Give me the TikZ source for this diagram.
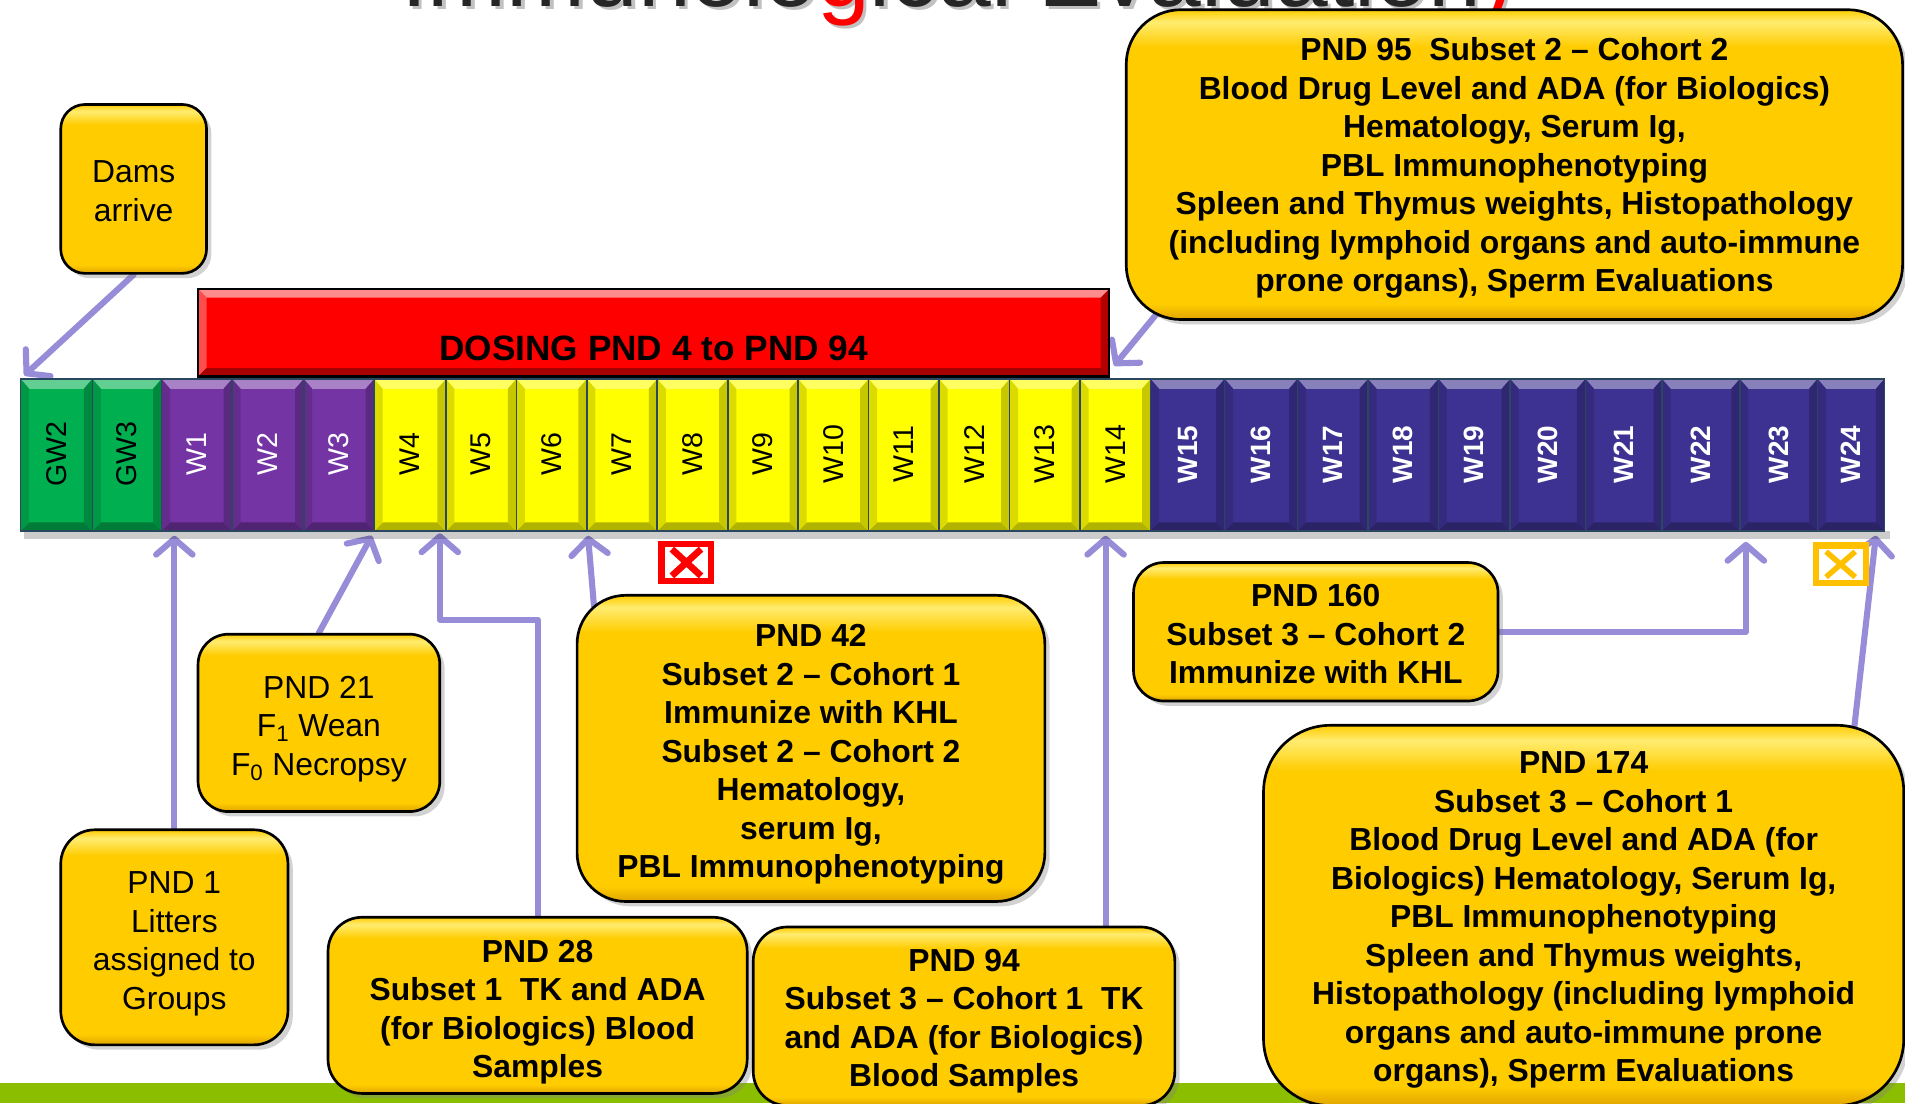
\documentclass[tikz,border=0pt]{standalone}
\usepackage{fontspec}
\setmainfont{Liberation Sans}
\usetikzlibrary{arrows.meta,shadows}
\definecolor{boxy}{HTML}{FFCC00}
\definecolor{boxhi}{HTML}{FFEC70}
\definecolor{boxlo}{HTML}{E0A400}
\definecolor{arrc}{RGB}{150,140,216}
\definecolor{gwg}{HTML}{00B050}
\definecolor{wpur}{HTML}{7434A4}
\definecolor{wyel}{HTML}{FFFF00}
\definecolor{wind}{HTML}{3D3292}
\definecolor{limeband}{RGB}{140,190,0}
\definecolor{xorange}{HTML}{FFC000}
\definecolor{cellline}{HTML}{2B4760}
\definecolor{titlec}{HTML}{262626}
\pgfdeclareverticalshading{glossy}{100bp}{color(0bp)=(boxlo); color(25bp)=(boxlo); color(27.5bp)=(boxy); color(69bp)=(boxy); color(73bp)=(boxhi); color(75bp)=(boxy); color(100bp)=(boxy)}
\newcommand\boxfont{\fontsize{26.2}{31.7}\selectfont}
\newcommand\cellr{\fontsize{23.5}{28}\selectfont}
\newcommand\cellb{\fontsize{23}{28}\selectfont\bfseries}
\newcommand\dosfont{\fontsize{29}{34}\selectfont\bfseries}
\newcommand\titlefont{\fontsize{78}{90}\selectfont}
\newcommand\wkcell[6]{%
  \fill[fill=#3] (#1,312) rectangle (#2,437);
  \fill[fill=#3!62!white] (#1,312) -- (#2,312) -- ({#2-7},320) -- ({#1+7},320) -- cycle;
  \fill[fill=#3!70!black] (#1,437) -- (#2,437) -- ({#2-7},430) -- ({#1+7},430) -- cycle;
  \fill[fill=#3!86!black] (#1,312) -- ({#1+7},320) -- ({#1+7},430) -- (#1,437) -- cycle;
  \fill[fill=#3!78!black] (#2,312) -- ({#2-7},320) -- ({#2-7},430) -- (#2,437) -- cycle;
  \draw[draw=cellline, line width=1.3pt] (#1,312) rectangle (#2,437);
  \node[rotate=90, text=#4, font=#6, inner sep=0pt] (cell#5) at ({(#1+#2)/2},374) {#5};
}
\pgfdeclarelayer{bg}
\pgfsetlayers{bg,main}
\begin{document}
\begin{tikzpicture}[x=1pt,y=-1pt,
  tbox/.style={draw=black, line width=2.2pt, shading=glossy, rounded corners=#1,
    inner sep=0pt,
    drop shadow={shadow xshift=4pt,shadow yshift=-4pt,opacity=0.35}},
  btext/.style={align=center, font=\boxfont\bfseries, inner sep=0pt},
  rtext/.style={align=center, font=\boxfont, inner sep=0pt},
  arr/.style={draw=arrc, line width=5pt, line cap=round, line join=round,
    -{Straight Barb[length=13pt,width=30pt,round]}},
  xbox/.style={draw=#1, line width=5pt, fill=white, minimum width=41pt,
    minimum height=31pt, inner sep=0pt}
]
\useasboundingbox (0,0) rectangle (1568,908);
\begin{pgfonlayer}{bg}
\fill[white] (0,0) rectangle (1568,908);
\fill[limeband] (0,891) rectangle (1568,908);
\end{pgfonlayer}
\clip (0,0) rectangle (1568,908);

% title (cut off at the top, as in the reference)
\node[anchor=base west, inner sep=0pt, font=\titlefont, text=black!40, opacity=0.6] (titleshadow) at (333,8) {Immunological Evaluation)};
\node[anchor=base west, inner sep=0pt, font=\titlefont, text=titlec] (title) at (330,5) {Immunolo\textcolor{red}{g}ical Evaluation\textcolor{red}{)}};

% dosing bar
\fill[red] (163,238) rectangle (913,310);
\fill[red!45!white] (163,238) -- (913,238) -- (906,245) -- (170,245) -- cycle;
\fill[red!70!white] (163,238) -- (170,245) -- (170,303) -- (163,310) -- cycle;
\fill[red!70!black] (913,238) -- (906,245) -- (906,303) -- (913,310) -- cycle;
\fill[red!65!black] (163,310) -- (913,310) -- (906,303) -- (170,303) -- cycle;
\draw[black, line width=2pt] (163,238) rectangle (913,310);
\node[font=\dosfont, inner sep=0pt] (dosing) at (538,287) {DOSING PND 4 to PND 94};

% week bar
\fill[black, opacity=0.2] (20,437) rectangle (1556,444);
\foreach \a/\b/\c/\d/\e/\f in {
  17/76/gwg/black/GW2/\cellr, 76/133/gwg/black/GW3/\cellr,
  133/191/wpur/white/W1/\cellr, 191/250/wpur/white/W2/\cellr, 250/308/wpur/white/W3/\cellr,
  308/367/wyel/black/W4/\cellr, 367/425/wyel/black/W5/\cellr, 425/483/wyel/black/W6/\cellr,
  483/541/wyel/black/W7/\cellr, 541/599/wyel/black/W8/\cellr, 599/657/wyel/black/W9/\cellr,
  657/715/wyel/black/W10/\cellr, 715/773/wyel/black/W11/\cellr, 773/831/wyel/black/W12/\cellr,
  831/889/wyel/black/W13/\cellr, 889/947/wyel/black/W14/\cellr,
  947/1008/wind/white/W15/\cellb, 1008/1068/wind/white/W16/\cellb, 1068/1126/wind/white/W17/\cellb,
  1126/1184/wind/white/W18/\cellb, 1184/1243/wind/white/W19/\cellb, 1243/1305/wind/white/W20/\cellb,
  1305/1368/wind/white/W21/\cellb, 1368/1432/wind/white/W22/\cellb, 1432/1496/wind/white/W23/\cellb,
  1496/1551/wind/white/W24/\cellb}
  {\wkcell{\a}{\b}{\c}{\d}{\e}{\f}}

% markers
\node[xbox=red] (xred) at (565,463) {};
\draw[red, line width=5.5pt] (553,452) -- (577,474) (577,452) -- (553,474);
\node[xbox=xorange] (xora) at (1515,464.5) {};
\draw[xorange, line width=4.5pt] (1503,454) -- (1527,475) (1527,454) -- (1503,475);

% boxes
\node[tbox=20pt, minimum width=120pt, minimum height=139pt] (dams) at (110,155.5) {};
\node[rtext] (damst) at ([yshift=-2pt]dams.center) {Dams\\arrive};
\node[tbox=45pt, minimum width=639pt, minimum height=255pt] (pnd95) at (1246.5,135.5) {};
\node[btext] (pnd95t) at ([yshift=-3pt]pnd95.center)
 {PND 95\ \ Subset 2 – Cohort 2\\Blood Drug Level and ADA (for Biologics)\\Hematology, Serum Ig,\\PBL Immunophenotyping\\Spleen and Thymus weights, Histopathology\\(including lymphoid organs and auto-immune\\prone organs), Sperm Evaluations};
\node[tbox=25pt, minimum width=199pt, minimum height=146pt] (pnd21) at (262.5,595) {};
\node[rtext] (pnd21t) at ([yshift=-5pt]pnd21.center)
 {PND 21\\F\textsubscript{1} Wean\\F\textsubscript{0} Necropsy};
\node[tbox=28pt, minimum width=187pt, minimum height=177pt] (pnd1) at (143.5,771.5) {};
\node[rtext] (pnd1t) at ([yshift=-5.5pt]pnd1.center)
 {PND 1\\Litters\\assigned to\\Groups};
\node[tbox=40pt, minimum width=385pt, minimum height=252pt] (pnd42) at (667.5,616) {};
\node[btext] (pnd42t) at ([yshift=-5pt]pnd42.center)
 {PND 42\\Subset 2 – Cohort 1\\Immunize with KHL\\Subset 2 – Cohort 2\\Hematology,\\serum Ig,\\PBL Immunophenotyping};
\node[tbox=28pt, minimum width=345pt, minimum height=145pt] (pnd28) at (442.5,827.5) {};
\node[btext] (pnd28t) at ([yshift=-5.5pt]pnd28.center)
 {PND 28\\Subset 1\ \ TK and ADA\\(for Biologics) Blood\\Samples};
\node[tbox=28pt, minimum width=347pt, minimum height=147pt] (pnd94) at (793.5,836.5) {};
\node[btext] (pnd94t) at ([yshift=-4pt]pnd94.center)
 {PND 94\\Subset 3 – Cohort 1\ \ TK\\and ADA (for Biologics)\\Blood Samples};
\node[tbox=25pt, minimum width=300pt, minimum height=114pt] (pnd160) at (1083,520) {};
\node[btext] (pnd160t) at ([yshift=-2pt]pnd160.center)
 {PND 160\\Subset 3 – Cohort 2\\Immunize with KHL};
\node[tbox=55pt, minimum width=527pt, minimum height=313pt] (pnd174) at (1303.5,753.5) {};
\node[btext] (pnd174t) at ([yshift=-4pt]pnd174.center)
 {PND 174\\Subset 3 – Cohort 1\\Blood Drug Level and ADA (for\\Biologics) Hematology, Serum Ig,\\PBL Immunophenotyping\\Spleen and Thymus weights,\\Histopathology (including lymphoid\\organs and auto-immune prone\\organs), Sperm Evaluations};

% arrow end points
\coordinate (tGW2) at (20,309);
\coordinate (tW1) at (143.5,441);
\coordinate (tW3) at (306,441);
\coordinate (kW4) at (362,510);
\coordinate (tW4) at (362,439);
\coordinate (tW7) at (484,441);
\coordinate (tW14b) at (910,441);
\coordinate (tW14t) at (917,301);
\coordinate (tW23) at (1437,446);
\coordinate (tW24) at (1544,441);
\coordinate (s42) at ([xshift=15pt,yshift=-10pt]pnd42.north west);
\coordinate (s95) at ([xshift=28pt,yshift=8pt]pnd95.south west);
\coordinate (s174) at ([xshift=-42pt,yshift=-4pt]pnd174.north east);

\begin{pgfonlayer}{bg}
\draw[arr] (dams.south) -- (tGW2);
\draw[arr] (pnd1.north) -- (tW1);
\draw[arr] (pnd21.north) -- (tW3);
\draw[arr] (pnd28.north) |- (kW4) -- (tW4);
\draw[arr] (s42) -- (tW7);
\draw[arr] (pnd94.north -| tW14b) -- (tW14b);
\draw[arr] (s95) -- (tW14t);
\draw[arr] (pnd160.east) -| (tW23);
\draw[arr] (s174) -- (tW24);
\end{pgfonlayer}
\end{tikzpicture}
\end{document}
